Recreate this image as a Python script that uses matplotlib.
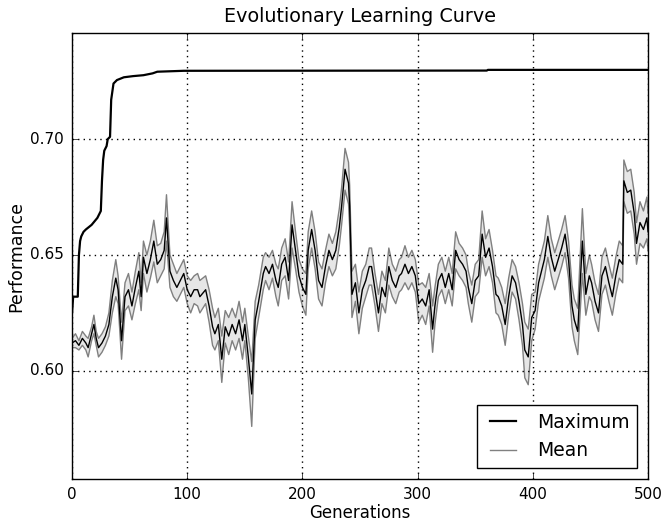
import numpy as np
import matplotlib
matplotlib.use("Agg")
import matplotlib.pyplot as plt
from matplotlib.lines import Line2D

plt.style.use("classic")
plt.rcParams["font.family"] = ["DejaVu Sans"]

# ---- data ----
max_gen = [0, 1, 5, 6, 7, 8, 10, 12, 17, 22, 25, 26, 27, 28, 30, 31, 33, 34, 36,
           39, 45, 53, 62, 70, 74, 97, 360, 361, 500]
max_val = [0.625, 0.632, 0.632, 0.650, 0.656, 0.658, 0.660, 0.661, 0.663, 0.666,
           0.669, 0.682, 0.691, 0.695, 0.697, 0.700, 0.701, 0.717, 0.724, 0.7255,
           0.7267, 0.7272, 0.7276, 0.7284, 0.7291, 0.7295, 0.7296, 0.7299, 0.7299]

gens = [0, 3, 6, 9, 12, 14, 17, 19, 21, 23,
        26, 29, 32, 35, 38, 40, 43, 46, 49, 52,
        55, 58, 60, 62, 65, 68, 71, 74, 77, 80,
        82, 85, 88, 91, 94, 97, 100, 103, 106, 109,
        111, 116, 119, 122, 124, 127, 130, 133, 136, 139,
        142, 145, 148, 150, 153, 156, 159, 162, 166, 168,
        171, 174, 177, 179, 182, 185, 188, 191, 194, 197,
        200, 203, 205, 208, 211, 214, 217, 220, 223, 226,
        229, 232, 234, 237, 240, 241, 243, 246, 249, 252,
        255, 258, 260, 263, 266, 269, 272, 275, 278, 281,
        284, 286, 289, 292, 295, 298, 301, 304, 307, 310,
        313, 315, 318, 321, 324, 327, 330, 333, 336, 339,
        342, 344, 347, 350, 353, 356, 359, 362, 365, 368,
        370, 373, 376, 379, 382, 385, 388, 391, 393, 396,
        399, 402, 405, 407, 410, 413, 416, 419, 422, 425,
        428, 431, 434, 436, 439, 443, 446, 449, 451, 454,
        457, 460, 463, 466, 469, 472, 475, 478, 479, 482,
        485, 488, 490, 493, 496, 499, 500]

mean_val = [.612, .613, .611, .614, .612, .610, .616, .620, .614, .610,
            .612, .615, .620, .632, .640, .635, .613, .632, .635, .628,
            .636, .643, .632, .649, .642, .648, .656, .646, .648, .652,
            .666, .643, .639, .636, .639, .642, .635, .632, .635, .635,
            .632, .635, .628, .619, .616, .620, .605, .619, .615, .620,
            .616, .622, .613, .620, .606, .590, .622, .630, .642, .645,
            .642, .646, .639, .636, .646, .649, .639, .663, .652, .641,
            .636, .633, .652, .661, .652, .639, .636, .645, .652, .648,
            .652, .662, .671, .687, .681, .671, .633, .638, .625, .635,
            .639, .645, .645, .635, .625, .636, .632, .645, .639, .636,
            .641, .642, .646, .642, .645, .641, .629, .631, .628, .635,
            .618, .628, .639, .642, .636, .642, .635, .652, .648, .646,
            .643, .636, .629, .639, .641, .659, .649, .653, .645, .633,
            .632, .628, .620, .632, .641, .638, .630, .620, .609, .606,
            .623, .626, .638, .642, .648, .658, .649, .643, .648, .653,
            .659, .648, .628, .622, .617, .656, .633, .641, .638, .630,
            .625, .641, .645, .638, .632, .641, .648, .646, .682, .677,
            .678, .668, .655, .664, .661, .666, .660]

std_val = [.002, .003, .002, .003, .003, .004, .003, .004, .003, .004,
           .004, .004, .005, .007, .008, .006, .008, .006, .007, .006,
           .007, .008, .006, .007, .008, .008, .009, .008, .007, .008,
           .010, .007, .007, .006, .006, .006, .006, .007, .006, .007,
           .007, .006, .007, .008, .007, .007, .010, .007, .008, .007,
           .007, .008, .008, .007, .009, .014, .008, .007, .007, .006,
           .007, .006, .007, .008, .007, .008, .008, .010, .008, .007,
           .008, .009, .008, .008, .008, .008, .008, .007, .007, .007,
           .008, .008, .008, .009, .009, .009, .010, .008, .009, .008,
           .007, .008, .008, .007, .008, .007, .007, .008, .007, .007,
           .007, .007, .008, .007, .007, .007, .008, .007, .008, .007,
           .010, .008, .007, .007, .007, .007, .007, .008, .007, .007,
           .007, .007, .008, .007, .007, .010, .008, .008, .007, .008,
           .008, .008, .009, .008, .007, .007, .008, .009, .012, .012,
           .010, .008, .008, .008, .008, .009, .008, .008, .008, .008,
           .008, .008, .009, .009, .010, .014, .009, .009, .008, .008,
           .008, .008, .008, .008, .008, .008, .008, .008, .009, .009,
           .009, .009, .009, .009, .008, .009, .008]

x_ticks = [0, 100, 200, 300, 400, 500]
y_ticks = [0.60, 0.65, 0.70]

# ---- plot ----
g = np.array(gens)
m = np.array(mean_val)
s = np.array(std_val)

fig = plt.figure(figsize=(6.65, 5.21), dpi=100, facecolor="white")
ax = fig.add_axes([0.1083, 0.0806, 0.8662, 0.856])

ax.fill_between(g, m - s, m + s, facecolor="0.9", edgecolor="none")
ax.plot(g, m + s, color="0.5", lw=1.0)
ax.plot(g, m - s, color="0.5", lw=1.0)
ax.plot(g, m, color="black", lw=1.0)
ax.plot(max_gen, max_val, color="black", lw=1.6)

ax.set_xlim(0, 500)
ax.set_ylim(0.5533, 0.7458)
ax.set_xticks(x_ticks)
ax.set_yticks(y_ticks)
ax.set_yticklabels(["%.2f" % v for v in y_ticks])
ax.grid(True, color="black", linestyle=":", linewidth=1.0)

ax.set_title("Evolutionary Learning Curve", fontsize=13.8, pad=8)
ax.set_xlabel("Generations", fontsize=12, labelpad=1)
ax.set_ylabel("Performance", fontsize=12.5, labelpad=3)
ax.tick_params(labelsize=11, pad=6)

handles = [Line2D([], [], color="black", lw=1.6),
           Line2D([], [], color="0.5", lw=1.0)]
ax.legend(handles, ["Maximum", "Mean"], loc=4, fancybox=False, fontsize=13.5,
          borderaxespad=0.6)

fig.savefig("out.png", dpi=100, facecolor="white")
